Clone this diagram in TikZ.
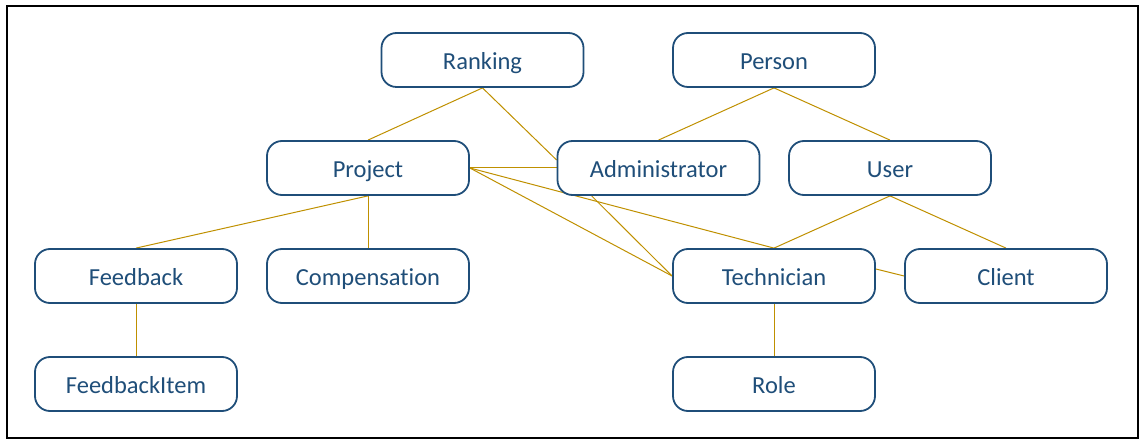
\documentclass[tikz,border=0pt]{standalone}
\usepackage{fontspec}
\setmainfont{Carlito}[Ligatures=NoCommon]
\usetikzlibrary{backgrounds}
\definecolor{boxblue}{RGB}{31,78,121}
\definecolor{linkgold}{RGB}{191,144,0}
\begin{document}
\begin{tikzpicture}[x=1pt,y=-1pt,
  entity/.style={draw=boxblue,text=boxblue,fill=white,line width=1.8pt,rounded corners=15pt,
    minimum width=202pt,minimum height=54pt,inner sep=0pt,text height=19.5pt,text depth=1pt,
    font=\fontsize{24.5}{28}\selectfont},
  link/.style={draw=linkgold,line width=1pt}]
\useasboundingbox (0,0) rectangle (1146,446);
\node[draw=black,line width=2pt,minimum width=1131pt,minimum height=431pt,inner sep=0pt] (frame) at (572,222) {};
\node[entity] (rank) at (482.5,60) {Ranking};
\node[entity] (person) at (774,60) {Person};
\node[entity] (proj) at (368,168) {Project};
\node[entity] (adm) at (658.5,168) {Administrator};
\node[entity] (user) at (890,168) {User};
\node[entity] (fb) at (136,276) {Feedback};
\node[entity] (comp) at (368,276) {Compensation};
\node[entity] (tech) at (774,276) {Technician};
\node[entity] (client) at (1006,276) {Client};
\node[entity] (fbi) at (136,384) {FeedbackItem};
\node[entity] (role) at (774,384) {Role};
\begin{scope}[on background layer]
\draw[link] (rank.south) -- (proj.north);
\draw[link] (rank.south) -- ([yshift=8pt]adm.west);
\draw[link] (person.south) -- (adm.north);
\draw[link] (person.south) -- (user.north);
\draw[link] (proj.east) -- (adm.west);
\draw[link] (proj.east) -- (tech.west);
\draw[link] (proj.east) -- (tech.north);
\draw[link] ([xshift=35pt]adm.south west) -- (tech.west);
\draw[link] (proj.south) -- (fb.north);
\draw[link] (proj.south) -- (comp.north);
\draw[link] (fb.south) -- (fbi.north);
\draw[link] (user.south) -- (tech.north);
\draw[link] (user.south) -- (client.north);
\draw[link] ([yshift=7pt]tech.east) -- (client.west);
\draw[link] (tech.south) -- (role.north);
\end{scope}
\end{tikzpicture}
\end{document}
